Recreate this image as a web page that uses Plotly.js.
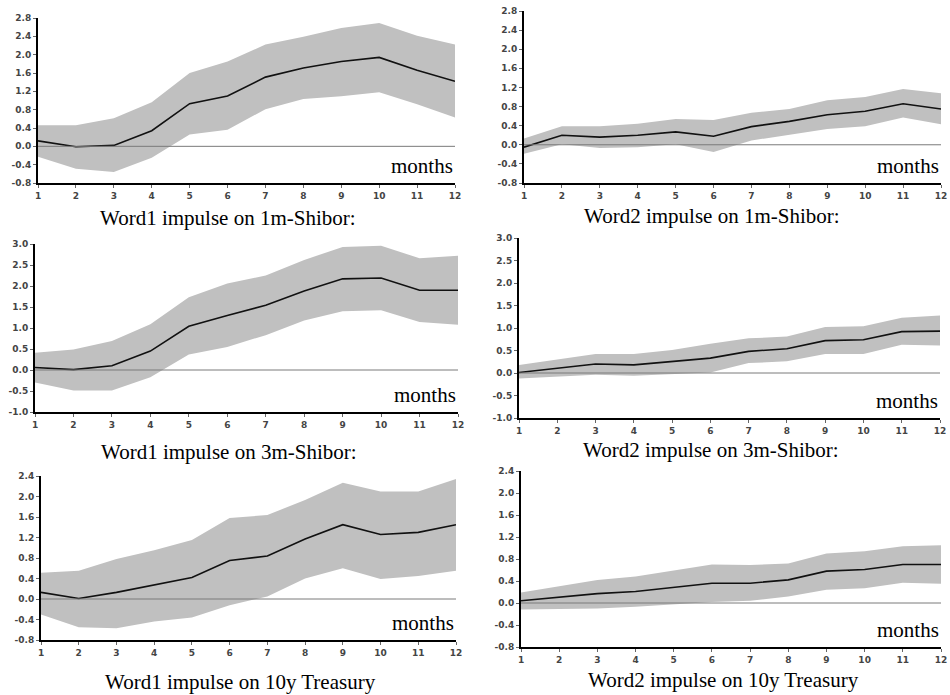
<!DOCTYPE html>
<html>
<head>
<meta charset="utf-8">
<script src="https://cdn.plot.ly/plotly-3.0.1.min.js"></script>
<style>html,body{margin:0;padding:0;background:#fff;}#chart{width:950px;height:695px;}</style>
</head>
<body>
<div id="chart"></div>
<script>
// horizon (months)
const horizon = [1,2,3,4,5,6,7,8,9,10,11,12];

// Word1 impulse on 1m-Shibor
const w1_1m_irf = [0.12,-0.01,0.02,0.34,0.93,1.10,1.51,1.71,1.85,1.94,1.66,1.42];
const w1_1m_hi  = [0.46,0.46,0.61,0.96,1.60,1.85,2.22,2.39,2.58,2.69,2.41,2.22];
const w1_1m_lo  = [-0.23,-0.49,-0.56,-0.25,0.26,0.36,0.81,1.03,1.09,1.18,0.92,0.63];

// Word2 impulse on 1m-Shibor
const w2_1m_irf = [-0.05,0.20,0.16,0.20,0.27,0.18,0.38,0.49,0.63,0.70,0.86,0.75];
const w2_1m_hi  = [0.13,0.39,0.39,0.44,0.54,0.52,0.67,0.75,0.93,1.00,1.17,1.08];
const w2_1m_lo  = [-0.19,0.01,-0.07,-0.05,0.01,-0.15,0.09,0.21,0.33,0.39,0.57,0.43];

// Word1 impulse on 3m-Shibor
const w1_3m_irf = [0.06,0.01,0.10,0.45,1.04,1.30,1.54,1.88,2.17,2.19,1.90,1.90];
const w1_3m_hi  = [0.41,0.49,0.69,1.09,1.73,2.06,2.25,2.62,2.93,2.96,2.66,2.72];
const w1_3m_lo  = [-0.30,-0.49,-0.49,-0.17,0.37,0.55,0.83,1.18,1.40,1.42,1.14,1.08];

// Word2 impulse on 3m-Shibor
const w2_3m_irf = [0.01,0.11,0.20,0.18,0.25,0.33,0.48,0.54,0.72,0.74,0.92,0.93];
const w2_3m_hi  = [0.18,0.30,0.42,0.42,0.51,0.65,0.77,0.81,1.02,1.04,1.23,1.28];
const w2_3m_lo  = [-0.12,-0.08,-0.04,-0.06,-0.02,0.01,0.22,0.26,0.42,0.42,0.63,0.61];

// Word1 impulse on 10y Treasury
const w1_10y_irf = [0.13,0.01,0.13,0.27,0.42,0.75,0.84,1.17,1.45,1.26,1.30,1.45];
const w1_10y_hi  = [0.51,0.55,0.78,0.95,1.15,1.58,1.64,1.93,2.27,2.10,2.10,2.34];
const w1_10y_lo  = [-0.30,-0.55,-0.57,-0.44,-0.36,-0.12,0.05,0.40,0.60,0.39,0.45,0.55];

// Word2 impulse on 10y Treasury
const w2_10y_irf = [0.04,0.10,0.17,0.21,0.28,0.36,0.36,0.42,0.58,0.61,0.70,0.70];
const w2_10y_hi  = [0.19,0.31,0.42,0.48,0.59,0.70,0.69,0.72,0.90,0.94,1.03,1.05];
const w2_10y_lo  = [-0.12,-0.11,-0.10,-0.07,-0.02,0.02,0.04,0.12,0.24,0.27,0.37,0.35];

// tick value lists
const yticks_a = [-0.8,-0.4,0.0,0.4,0.8,1.2,1.6,2.0,2.4,2.8];
const yticks_b = [-1.0,-0.5,0.0,0.5,1.0,1.5,2.0,2.5,3.0];
const yticks_c = [-0.8,-0.4,0.0,0.4,0.8,1.2,1.6,2.0,2.4];

// panel titles
const titles = [
  "Word1 impulse on 1m-Shibor:",
  "Word2 impulse on 1m-Shibor:",
  "Word1 impulse on 3m-Shibor:",
  "Word2 impulse on 3m-Shibor:",
  "Word1 impulse on 10y Treasury",
  "Word2 impulse on 10y Treasury"
];
const xLabel = "months";

const W = 950, H = 695;
const panels = [
  {irf:w1_1m_irf, hi:w1_1m_hi, lo:w1_1m_lo, ticks:yticks_a, px:[38,455], py:[18,183], t:[228,218]},
  {irf:w2_1m_irf, hi:w2_1m_hi, lo:w2_1m_lo, ticks:yticks_a, px:[524,941], py:[11,183], t:[712,216]},
  {irf:w1_3m_irf, hi:w1_3m_hi, lo:w1_3m_lo, ticks:yticks_b, px:[35,458], py:[244,412], t:[229,452]},
  {irf:w2_3m_irf, hi:w2_3m_hi, lo:w2_3m_lo, ticks:yticks_b, px:[519,940], py:[238,418], t:[711,450]},
  {irf:w1_10y_irf, hi:w1_10y_hi, lo:w1_10y_lo, ticks:yticks_c, px:[41,456], py:[476,640], t:[240,682]},
  {irf:w2_10y_irf, hi:w2_10y_hi, lo:w2_10y_lo, ticks:yticks_c, px:[521,941], py:[471,647], t:[723,680]}
];

const traces = [];
const layout = {
  width: W, height: H,
  margin: {l:0, r:0, t:0, b:0},
  paper_bgcolor: '#fff', plot_bgcolor: '#fff',
  showlegend: false,
  shapes: [], annotations: []
};
const tickFont = {family: 'DejaVu Sans, Verdana, sans-serif', size: 9, color: '#444', weight: 'bold'};
const serif = 'Liberation Serif, Times New Roman, serif';

panels.forEach((p, i) => {
  const n = i + 1;
  const xa = 'x' + (n === 1 ? '' : n), ya = 'y' + (n === 1 ? '' : n);
  const xk = 'xaxis' + (n === 1 ? '' : n), yk = 'yaxis' + (n === 1 ? '' : n);
  traces.push({x: horizon, y: p.lo, xaxis: xa, yaxis: ya, type: 'scatter', mode: 'lines',
               line: {width: 0, color: '#c0c0c0'}, hoverinfo: 'skip'});
  traces.push({x: horizon, y: p.hi, xaxis: xa, yaxis: ya, type: 'scatter', mode: 'lines',
               fill: 'tonexty', fillcolor: '#c0c0c0', line: {width: 0, color: '#c0c0c0'}, hoverinfo: 'skip'});
  traces.push({x: horizon, y: p.irf, xaxis: xa, yaxis: ya, type: 'scatter', mode: 'lines',
               line: {width: 1.6, color: '#111'}});
  const ymin = p.ticks[0], ymax = p.ticks[p.ticks.length - 1];
  layout[xk] = {
    domain: [p.px[0] / W, p.px[1] / W], anchor: ya, range: [1, 12],
    showline: true, linecolor: '#000', linewidth: 2, mirror: false,
    ticks: 'outside', ticklen: 3, tickcolor: '#666', tickwidth: 1,
    tickvals: horizon, ticktext: horizon.map(String), tickfont: tickFont,
    ticklabeloverflow: 'allow',
    showgrid: false, zeroline: false, fixedrange: true
  };
  layout[yk] = {
    domain: [1 - p.py[1] / H, 1 - p.py[0] / H], anchor: xa, range: [ymin, ymax],
    showline: true, linecolor: '#000', linewidth: 2,
    ticks: 'outside', ticklen: 3, tickcolor: '#666', tickwidth: 1,
    tickvals: p.ticks, ticktext: p.ticks.map(v => v.toFixed(1)), tickfont: tickFont,
    showgrid: false, zeroline: false, fixedrange: true
  };
  layout.shapes.push({type: 'line', layer: 'above', xref: xa + ' domain', x0: 0, x1: 1,
                      yref: ya, y0: 0, y1: 0, line: {color: '#7a7a7a', width: 1}});
  layout.annotations.push({text: xLabel, xref: xa + ' domain', yref: ya + ' domain',
                           x: 1, y: 0, xanchor: 'right', yanchor: 'bottom', yshift: 3, showarrow: false,
                           font: {family: serif, size: 21, color: '#000'}});
  layout.annotations.push({text: titles[i], xref: 'paper', yref: 'paper',
                           x: p.t[0] / W, y: 1 - p.t[1] / H, xanchor: 'center', yanchor: 'middle', showarrow: false,
                           font: {family: serif, size: 21, color: '#000'}});
});

Plotly.newPlot('chart', traces, layout, {displayModeBar: false, staticPlot: true});
</script>
</body>
</html>
